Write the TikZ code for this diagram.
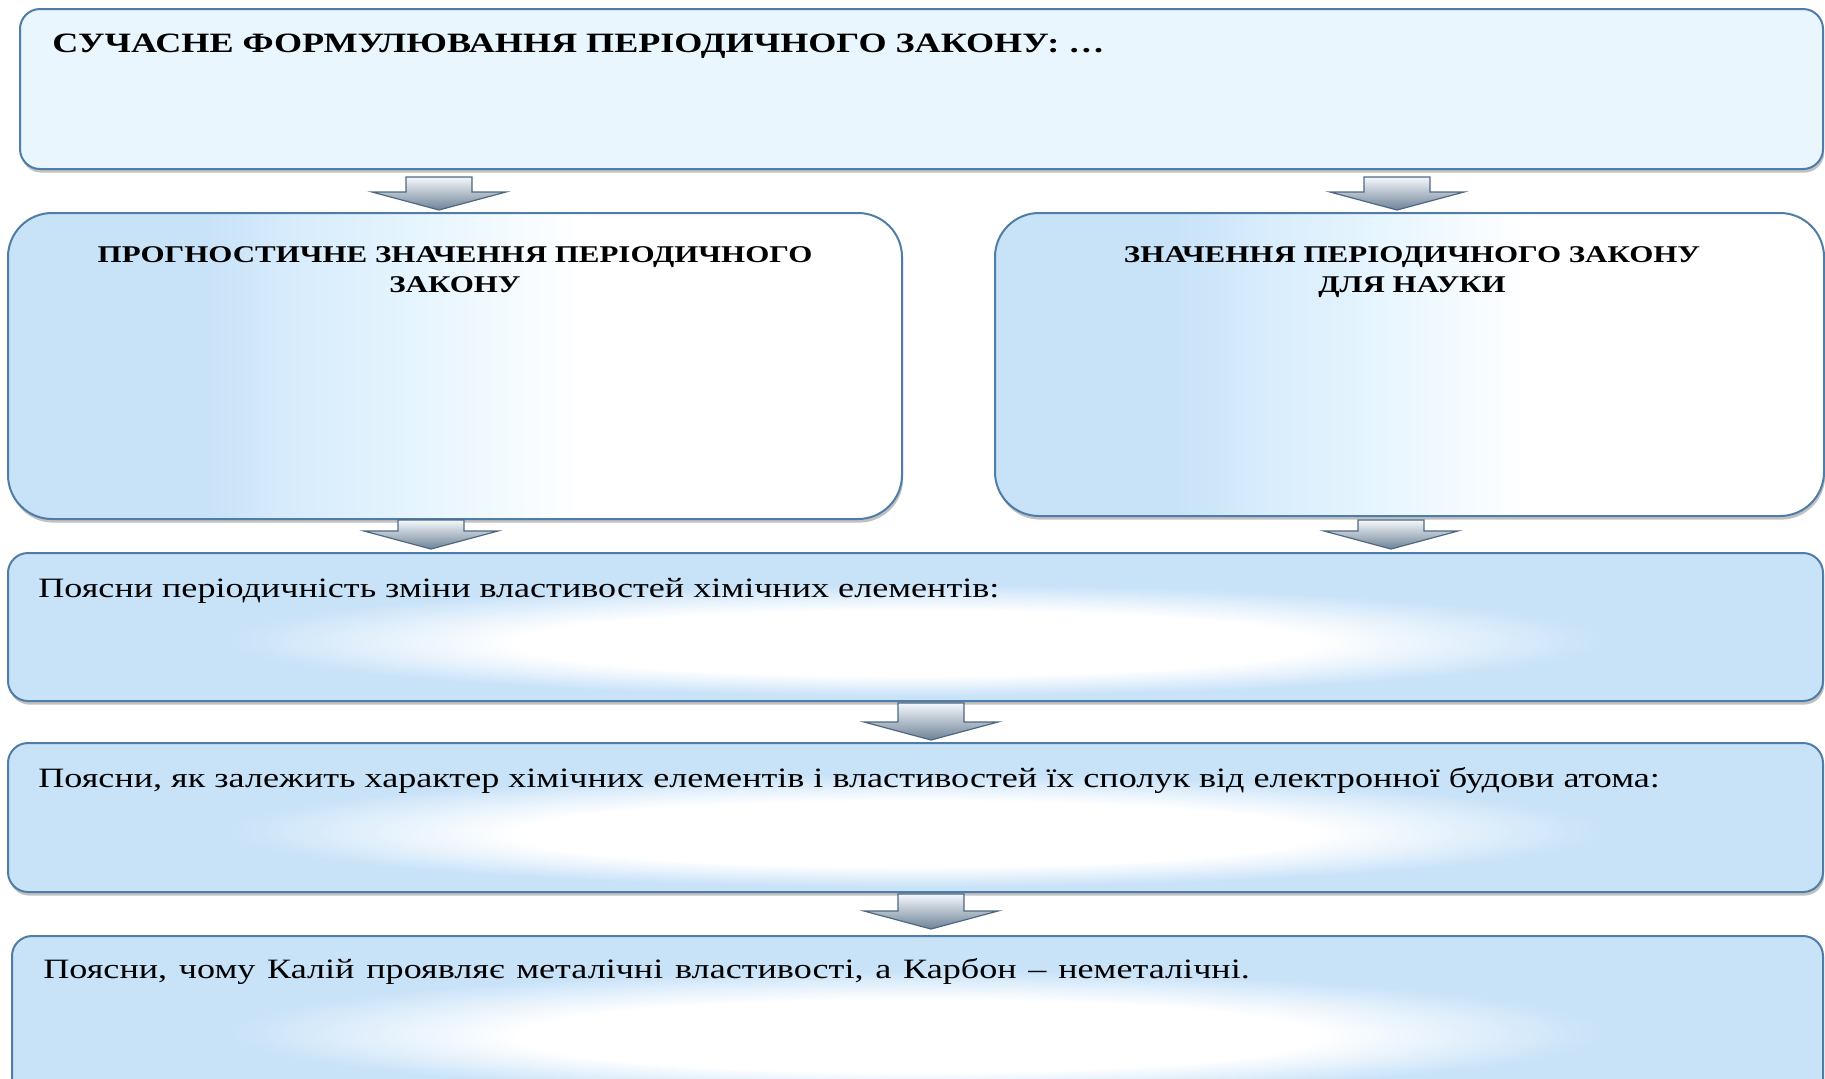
\documentclass[tikz,border=0pt]{standalone}
\usepackage{fontspec}
\setmainfont{Liberation Serif}[FakeStretch=1.29]
\usetikzlibrary{calc,shadows}

\definecolor{edgeblue}{RGB}{79,125,167}
\definecolor{paleblue}{RGB}{233,246,254}
\definecolor{midblue}{RGB}{200,226,248}
\definecolor{fadeblue}{RGB}{216,236,252}
\definecolor{lightblue}{RGB}{230,245,254}
\definecolor{arrowdark}{RGB}{110,130,150}
\definecolor{arrowlight}{RGB}{244,248,252}
\definecolor{arrowline}{RGB}{78,104,130}

% left-to-right fade used by the two middle boxes
\pgfdeclarehorizontalshading{sidefade}{100bp}{color(0bp)=(midblue); color(36bp)=(midblue); color(41bp)=(fadeblue); color(48bp)=(lightblue); color(57bp)=(white); color(100bp)=(white)}
% white glow in the lower middle of the wide boxes
\pgfdeclareradialshading{glow}{\pgfpoint{0bp}{-7bp}}{color(0bp)=(white); color(11bp)=(white); color(19bp)=(midblue); color(50bp)=(midblue)}

\tikzset{
  panel/.style={rectangle, draw=edgeblue, line width=1pt, inner sep=0pt, outer sep=0pt,
    anchor=north west,
    drop shadow={shadow xshift=0.6pt, shadow yshift=-1.8pt, opacity=0.35, fill=black!70}},
  flatpanel/.style={panel, fill=paleblue, rounded corners=10pt},
  fadepanel/.style={panel, shading=sidefade, rounded corners=22pt},
  glowpanel/.style={panel, shading=glow, rounded corners=10pt},
  titletext/.style={font=\bfseries\fontsize{14}{17}\selectfont, anchor=base west, inner sep=0pt},
  headtext/.style={font=\bfseries\fontsize{12}{15}\selectfont, align=center, inner sep=0pt, anchor=base},
  bodytext/.style={font=\fontsize{14}{17}\selectfont, anchor=base west, inner sep=0pt},
  blockarrow/.style={draw=arrowline, line width=0.6pt, top color=arrowlight, bottom color=arrowdark, line join=miter},
}

% a wide down-pointing block arrow from #1 (shaft top) to #2 (tip)
\newcommand\downblock[2]{%
  \path[blockarrow] let \p1=(#1), \p2=(#2) in
    (\x2-16.5pt,\y1) -- (\x2+16.5pt,\y1) -- (\x2+16.5pt,\y2+9pt) -- (\x2+33.5pt,\y2+9pt)
    -- (\x2,\y2) -- (\x2-33.5pt,\y2+9pt) -- (\x2-16.5pt,\y2+9pt) -- cycle;}

\begin{document}
\begin{tikzpicture}[x=0.5pt, y=-0.5pt]
\useasboundingbox (0,0) rectangle (1825,1078);

% boxes
\node[flatpanel, minimum width=901.5pt, minimum height=80pt] (law) at (20,9) {};
\node[fadepanel, minimum width=447pt, minimum height=153pt] (prog) at (8,213) {};
\node[fadepanel, minimum width=414.5pt, minimum height=151.5pt] (sci) at (995,213) {};
\node[glowpanel, minimum width=907.5pt, minimum height=74pt] (q1) at (8,553) {};
\node[glowpanel, minimum width=907.5pt, minimum height=74.5pt] (q2) at (8,743) {};
\node[glowpanel, minimum width=905.5pt, minimum height=82pt] (q3) at (12,936) {};

% texts
\node[titletext] (tlaw) at (52,52) {СУЧАСНЕ ФОРМУЛЮВАННЯ ПЕРІОДИЧНОГО ЗАКОНУ: …};
\node[headtext] (tprog) at (455,292) {ПРОГНОСТИЧНЕ ЗНАЧЕННЯ ПЕРІОДИЧНОГО\\ЗАКОНУ};
\node[headtext] (tsci) at (1412,292) {ЗНАЧЕННЯ ПЕРІОДИЧНОГО ЗАКОНУ\\ДЛЯ НАУКИ};
\node[bodytext] (tq1) at (38,597) {Поясни періодичність зміни властивостей хімічних елементів:};
\node[bodytext] (tq2) at (38,787) {Поясни, як залежить характер хімічних елементів і властивостей їх сполук від електронної будови атома:};
\node[bodytext] (tq3) at (43,978) {\spaceskip=5.9pt Поясни, чому Калій проявляє металічні властивості, а Карбон – неметалічні.};

% arrow columns
\coordinate (c1) at (439,0);
\coordinate (c2) at (1397,0);
\coordinate (c3) at (431,0);
\coordinate (c4) at (1391,0);
\coordinate (c5) at (931,0);

\downblock{$(law.south -| c1)+(0,8)$}{$(prog.north -| c1)+(0,-3)$}
\downblock{$(law.south -| c2)+(0,8)$}{$(sci.north -| c2)+(0,-3)$}
\downblock{$(prog.south -| c3)+(0,1)$}{$(q1.north -| c3)+(0,-4)$}
\downblock{$(sci.south -| c4)+(0,4)$}{$(q1.north -| c4)+(0,-4)$}
\downblock{$(q1.south -| c5)+(0,2)$}{$(q2.north -| c5)+(0,-3)$}
\downblock{$(q2.south -| c5)+(0,2)$}{$(q3.north -| c5)+(0,-7)$}
\end{tikzpicture}
\end{document}
